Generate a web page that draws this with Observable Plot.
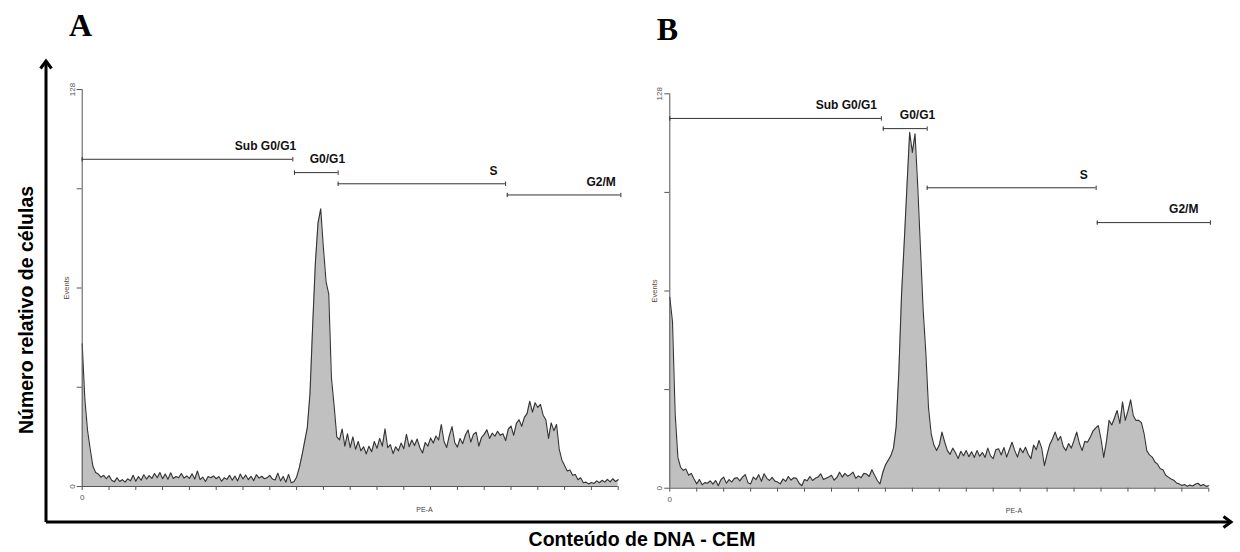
<!DOCTYPE html>
<html><head><meta charset="utf-8">
<script src="https://cdn.jsdelivr.net/npm/d3@7"></script>
<script src="https://cdn.jsdelivr.net/npm/@observablehq/plot@0.6"></script>
<style>
html,body{margin:0;padding:0;background:#fff;}
#root{position:relative;width:1240px;height:552px;overflow:hidden;font-family:"Liberation Sans",Arial,sans-serif;background:#fff;}
.panel{position:absolute;top:0;}
#overlay{position:absolute;left:0;top:0;pointer-events:none;}
.ytitle{position:absolute;left:26px;top:310px;transform:translate(-50%,-50%) rotate(-90deg);white-space:nowrap;font-weight:bold;font-size:19.5px;color:#000;}
.xtitle{position:absolute;left:642px;top:539px;transform:translate(-50%,-50%);white-space:nowrap;font-weight:bold;font-size:19.5px;color:#000;}
</style></head><body><div id="root"></div>
<script>
// channel numbers (PE-A, linear)
const channels = d3.range(0, 201);

// Panel A: events per channel
const countsA = [
46,28,18,12,6.5,4.5,4,3,3.6,2.5,
3.5,2,1.5,2.8,1.6,2.2,1.4,2.5,1.8,3.6,
1.7,3.2,2,3.8,2.4,3.5,2.6,4.2,2.8,4.5,
2.5,4,2.3,4.4,2.6,3.2,2.8,4.2,2.7,3.4,
2.6,4.1,2.4,5,2.2,3,1.6,3.2,2.8,3.4,
2.5,3.2,1.7,2.8,2.3,3.6,2,3.4,1.8,4,
2.4,3.7,2.2,3.3,1.9,3.8,2.7,3.3,2.5,2.8,
3.6,2.4,2.1,4.3,1.8,3.2,1.4,3.9,1.2,1.5,
3,6,10,14.5,19,30,52,72,85,89.5,
77,66,62,35,26,16,15,18.5,13,17,
12.5,16,12,14.5,11.5,12.8,10.5,13,11.2,14.5,
12.3,15.5,13,18.6,12.5,13.5,10.6,12.8,11.5,14,
12.2,16.8,12.8,15,13.2,15.3,12.5,10.8,14.2,13,
15.6,14,16.3,15,20,14.5,12.6,16.4,19.3,14.2,
12.7,15.5,13.8,16.6,18.2,14.3,16.8,17.5,13,15.8,
16.8,18.3,15.5,17.2,16.2,17.8,16.5,17,14.8,18.5,
19.5,16.5,20.3,21.5,19.4,22.3,23.5,27.5,24,27,
25.5,26.5,23,21.5,15.5,20.5,18,20,12,8.5,
6.8,5,5.3,3.6,3.9,2.2,2.8,1.2,1.4,0.8,
1.3,1,1.8,1.2,2,1.4,2.3,1.5,2.5,1.6,
2.2
];

// Panel B: events per channel
const countsB = [
62,54,24,10,6.8,5.8,6.2,4.2,4.8,3,
1.4,2.8,1.1,1.8,1.6,2.4,1.3,2.5,0.8,2.8,
3.6,1.6,2.8,2,3.2,3.4,2.4,3.6,4.4,1.8,
1.4,3.6,2.8,4.4,2.2,4.7,3.2,2.5,3.5,2.3,
2,1.4,3,2.2,3.8,2.6,3.4,3.2,1.6,0.8,
2.8,2.4,3.8,2.5,3.2,3.6,4.7,2.8,3.2,3.6,
4.2,2.6,3.5,5.2,3.6,4.8,3.9,4.4,5.2,3.2,
4,3.4,4.8,4.6,3.8,6,4.2,2.5,1.4,5,
7.5,9,10.5,13,20,38,63,80,98,115.5,
109,115,98,78,58,44,26,17.6,14,12.2,
14,18.2,15,12.2,11,13,11.5,9.6,12,10.5,
12.2,10.2,11.8,10,12.2,10.4,11.6,10,13,10.5,
9.6,12.5,12.8,10.8,13.2,10.1,12.5,14.9,12.2,10.1,
13,11.5,13.3,11,9.6,14,12.5,15.5,13,7.3,
11,14.2,16,18.2,15.5,16.8,13.5,12.2,14.5,13,
15.5,18.2,14.5,12.2,15.2,14.9,16.5,18.5,19.5,20.3,
16,10,15,22,20.5,22.8,25.2,21,28,22,
25,28.7,23.5,22,22,21.3,17.6,12.2,10.8,10.1,
8.5,7.8,6.3,6,4.2,3.6,3,2.6,1.7,1.4,
0.9,1.2,0.6,1,0.7,1.3,1.6,0.8,1.2,0.6,
0.8
];

// Gates (markers)
const gateLabels = ["Sub G0/G1", "G0/G1", "S", "G2/M"];
const gateStartA = [0, 79.2, 95.5, 158.6];
const gateEndA   = [78.6, 95.5, 158, 201];
const gateLevelA = [105.5, 101.2, 97.6, 94];
const gateLabelXA = [68.4, 91.5, 153.5, 193.6];

const gateStartB = [0, 79.2, 95.5, 158.6];
const gateEndB   = [78.5, 95.5, 158.2, 200.6];
const gateLevelB = [120, 116.7, 97.5, 86.2];
const gateLabelXB = [65.5, 91.9, 153.6, 190.7];

const yTicks = [0, 32, 64, 96, 128];
const yTickLabels = [0, 128];
const xTicks = d3.range(0, 201, 10);
const xTickLabels = [0];
const xAxisLabel = "PE-A";
const xAxisLabelAt = 127.7;
const yAxisLabel = "Events";

const vbar = {draw(ctx, size) { const r = Math.sqrt(size / Math.PI); ctx.moveTo(0, -r); ctx.lineTo(0, r); }};

function makePanel(counts, starts, ends, levels, labelXs, frame) {
  const data = channels.map((c, i) => ({x: c, y: counts[i]}));
  const gates = gateLabels.map((l, i) => ({label: l, x1: starts[i], x2: ends[i], level: levels[i], lx: labelXs[i]}));
  const caps = gates.flatMap(g => [{x: g.x1, y: g.level}, {x: g.x2, y: g.level}]);
  const axisColor = "#555";
  return Plot.plot({
    width: frame.width, height: 552,
    marginLeft: frame.ml, marginRight: frame.mr, marginTop: frame.mt, marginBottom: frame.mb,
    x: {domain: [0, 200]},
    y: {domain: [0, 128]},
    style: {background: "transparent", overflow: "visible", fontFamily: "Liberation Sans, Arial, sans-serif"},
    marks: [
      Plot.areaY(data, {x: "x", y: "y", fill: "#c0c0c0"}),
      Plot.lineY(data, {x: "x", y: "y", stroke: "#333", strokeWidth: 1.1}),
      Plot.ruleX([0], {stroke: axisColor}),
      Plot.ruleY([0], {stroke: axisColor}),
      Plot.axisY({ticks: yTicks, tickSize: 5, tickFormat: () => "", stroke: axisColor, label: null}),
      Plot.axisX({ticks: xTicks, tickSize: 4, tickFormat: () => "", stroke: axisColor, label: null}),
      Plot.text(yTickLabels, {x: () => 0, y: d => d, text: d => String(d), rotate: -90, dx: -10, fontSize: 8, fill: "#555"}),
      Plot.text(xTickLabels, {x: d => d, y: () => 0, text: d => String(d), dy: 11, fontSize: 8, fill: "#555"}),
      Plot.text([yAxisLabel], {x: () => 0, y: () => 64, text: d => d, rotate: -90, dx: -15.5, fontSize: 7.5, fill: "#5a463c"}),
      Plot.text([xAxisLabel], {x: () => xAxisLabelAt, y: () => 0, text: d => d, dy: 23, fontSize: 7, fill: "#444"}),
      Plot.ruleY(gates, {y: "level", x1: "x1", x2: "x2", stroke: "#333", strokeWidth: 1}),
      Plot.dot(caps, {x: "x", y: "y", r: 2.2, symbol: vbar, stroke: "#333", strokeWidth: 1, fill: "none"}),
      Plot.text(gates, {x: "lx", y: "level", text: "label", dy: -13, fontSize: 12, fontWeight: "bold", fill: "#111"})
    ]
  });
}

const root = document.getElementById("root");

const pA = makePanel(countsA, gateStartA, gateEndA, gateLevelA, gateLabelXA, {width: 640, ml: 81.7, mr: 22.3, mt: 89, mb: 66});
pA.classList.add("panel"); pA.style.left = "0px"; pA.style.position = "absolute"; pA.style.top = "0px";
root.appendChild(pA);

const pB = makePanel(countsB, gateStartB, gateEndB, gateLevelB, gateLabelXB, {width: 600, ml: 29.3, mr: 31.7, mt: 93.3, mb: 64.3});
pB.classList.add("panel"); pB.style.left = "640px"; pB.style.position = "absolute"; pB.style.top = "0px";
root.appendChild(pB);

// overlay: outer arrows and panel letters
const ns = "http://www.w3.org/2000/svg";
const ov = document.createElementNS(ns, "svg");
ov.setAttribute("id", "overlay");
ov.setAttribute("width", 1240); ov.setAttribute("height", 552);
ov.innerHTML = `
  <g stroke="#000" stroke-width="3" fill="none" stroke-linecap="butt">
    <line x1="46" y1="522" x2="46" y2="62"/>
    <path d="M40.5,68.5 L46,61 L51.5,68.5" stroke-linejoin="miter"/>
    <line x1="46" y1="522" x2="1230" y2="522"/>
    <path d="M1223.5,516.5 L1231,522 L1223.5,527.5" stroke-linejoin="miter"/>
  </g>
  <text x="80.5" y="36" text-anchor="middle" font-family="Liberation Serif, Times New Roman, serif" font-weight="bold" font-size="32">A</text>
  <text x="667.5" y="40" text-anchor="middle" font-family="Liberation Serif, Times New Roman, serif" font-weight="bold" font-size="32">B</text>
`;
root.appendChild(ov);

const yt = document.createElement("div"); yt.className = "ytitle"; yt.textContent = "Número relativo de células"; root.appendChild(yt);
const xt = document.createElement("div"); xt.className = "xtitle"; xt.textContent = "Conteúdo de DNA - CEM"; root.appendChild(xt);
</script>
</body></html>
